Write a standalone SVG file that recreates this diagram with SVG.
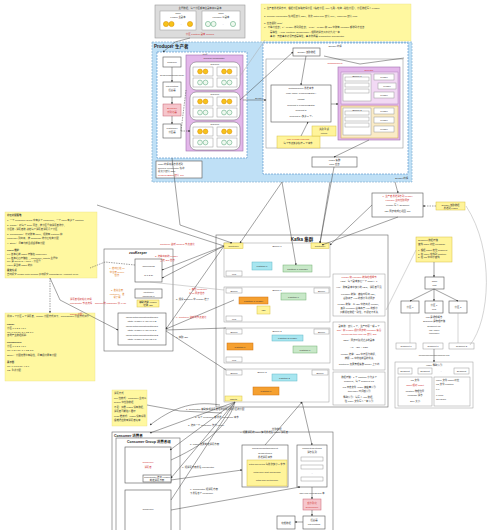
<svg xmlns="http://www.w3.org/2000/svg" width="500" height="530" viewBox="0 0 500 530">
<defs>
<style>
text{font-family:"Liberation Sans","Noto Sans CJK SC",sans-serif;font-size:3px;fill:#333}
.h{font-size:4.5px;font-weight:bold;fill:#222}
.s{font-size:2.4px}
.r{fill:#d03030}
.o{fill:#e07a20}
.bx{fill:#fff;stroke:#555;stroke-width:0.6}
.gb{fill:#fff;stroke:#999;stroke-width:0.5}
.yl{fill:#fff8a0;stroke:#e8e080;stroke-width:0.4}
.dash{fill:#fff;stroke:#4a8cc8;stroke-width:0.6;stroke-dasharray:2 1}
.pu{fill:#e3b7ea;stroke:#a070b0;stroke-width:0.6}
.rb{fill:#fff;stroke:#666;stroke-width:0.5}
.oc{fill:#f6c21a;stroke:#d98a00;stroke-width:0.5}
.gc{fill:#eef8ee;stroke:#4aa070;stroke-width:0.5}
.cy{fill:#a8e6f0;stroke:#60b8c8;stroke-width:0.5}
.gr{fill:#c8e8c8;stroke:#70b070;stroke-width:0.5}
.or{fill:#f5a030;stroke:#d07010;stroke-width:0.5}
.ye{fill:#fff49a;stroke:#d8c040;stroke-width:0.5}
.pk{fill:#f6c6cc;stroke:#c86070;stroke-width:0.5}
.ln{fill:none;stroke:#444;stroke-width:0.5}
.lg{fill:none;stroke:#aaa;stroke-width:0.5}
.ld{fill:none;stroke:#444;stroke-width:0.5;stroke-dasharray:1.5 1}
</style>
<marker id="a" viewBox="0 0 6 6" refX="5" refY="3" markerWidth="4" markerHeight="4" orient="auto"><path d="M0,0L6,3L0,6z" fill="#333"/></marker>
<g id="pair"><circle cx="0" cy="0" r="2.4" class="oc"/><circle cx="5.5" cy="0" r="2.4" class="oc"/></g>
<g id="gpair"><circle cx="0" cy="0" r="2.4" class="gc"/><circle cx="5.5" cy="0" r="2.4" class="gc"/></g>
</defs>

<!-- top legend -->
<g id="legend">
<rect x="155" y="5" width="90" height="33" fill="#dcdcdc" stroke="#999" stroke-width="0.6"/>
<text x="200" y="9" text-anchor="middle" class="s">主题数据，每个分区都有主副本和从副本</text>
<rect x="160" y="11" width="36" height="19" class="gb"/>
<text x="178" y="14" text-anchor="middle" class="s">Topic</text>
<text x="178" y="17.5" text-anchor="middle" class="s">Leader 主副本</text>
<circle cx="166" cy="24" r="2.6" class="oc"/><circle cx="171.5" cy="24" r="2.6" class="oc"/><text x="180" y="25" class="s">...</text><circle cx="190" cy="24" r="2.6" class="oc"/>
<rect x="202" y="11" width="38" height="19" class="gb"/>
<text x="221" y="14" text-anchor="middle" class="s">Topic</text>
<text x="221" y="17.5" text-anchor="middle" class="s">Follower 从副本</text>
<circle cx="208" cy="24" r="2.6" class="gc"/><circle cx="213.5" cy="24" r="2.6" class="gc"/><text x="222" y="25" class="s">...</text><circle cx="233" cy="24" r="2.6" class="gc"/>
<text x="200" y="34.5" text-anchor="middle" class="s r">分区 Partition 副本 Replica</text>
</g>

<g id="note-top">
<rect x="261" y="4" width="150" height="37" class="yl"/>
<text x="264" y="9" class="s">1. 生产者发送消息时，根据分区策略选择分区（指定分区 / key 哈希 / 轮询 / 粘性分区），分区数据写入 Leader</text>
<text x="264" y="17" class="s">2. RecordAccumulator 缓冲区默认 32M，批次 batch.size 默认 16K，linger.ms 默认 0ms</text>
<text x="264" y="24" class="s">3. 应答级别 acks：</text>
<text x="264" y="27.5" class="s">   0：不等待应答；1：Leader 收到即应答；-1(all)：Leader 和 ISR 中所有 Follower 都收到才应答</text>
<text x="270" y="33" class="s">   幂等性：&lt;PID, Partition, SeqNumber&gt; 相同的消息只会持久化一条</text>
<text x="270" y="36.5" class="s">   事务：开启事务必须开启幂等性，事务协调器 Transaction Coordinator</text>
</g>

<!-- Producer -->
<g id="producer">
<rect x="152" y="42" width="260" height="140" fill="#bfe0f6" stroke="#7aa8cc" stroke-width="0.6" stroke-dasharray="2 1"/>
<text x="154" y="47.5" class="h">Producer 生产者</text>
<rect x="157" y="52" width="90" height="106" class="dash"/>
<text x="202" y="56" text-anchor="middle" class="s">main 线程</text>
<rect x="163" y="57" width="18" height="10" class="bx"/><text x="172" y="63" text-anchor="middle" class="s">Producer</text>
<text x="172" y="76" text-anchor="middle" class="s">send(ProducerRecord)</text>
<rect x="163" y="82" width="18" height="15" class="bx"/><text x="172" y="87" text-anchor="middle" class="s">Interceptors</text><text x="172" y="91" text-anchor="middle" class="s">拦截器</text>
<rect x="163" y="104" width="18" height="12" class="pk"/><text x="172" y="109" text-anchor="middle" class="s r">Serializer</text><text x="172" y="113" text-anchor="middle" class="s r">序列化器</text>
<rect x="163" y="124" width="18" height="14" class="bx"/><text x="172" y="129" text-anchor="middle" class="s">Partitioner</text><text x="172" y="133" text-anchor="middle" class="s">分区器</text>
<rect x="186" y="55" width="57" height="96" class="pu"/>
<text x="214" y="59" text-anchor="middle" class="s">RecordAccumulator</text>
<rect x="190" y="62" width="50" height="28" rx="6" class="rb"/><text x="215" y="65" text-anchor="middle" class="s">DQueue</text>
<rect x="193" y="67" width="20" height="9" class="gb"/><rect x="217" y="67" width="20" height="9" class="gb"/>
<rect x="193" y="78" width="20" height="9" class="gb"/><rect x="217" y="78" width="20" height="9" class="gb"/>
<use href="#pair" x="200" y="71.5"/><use href="#pair" x="224" y="71.5"/><use href="#gpair" x="200" y="82.5"/><use href="#gpair" x="224" y="82.5"/>
<rect x="190" y="92" width="50" height="28" rx="6" class="rb"/><text x="215" y="95" text-anchor="middle" class="s">DQueue</text>
<rect x="193" y="97" width="20" height="9" class="gb"/><rect x="217" y="97" width="20" height="9" class="gb"/>
<rect x="193" y="108" width="20" height="9" class="gb"/><rect x="217" y="108" width="20" height="9" class="gb"/>
<use href="#pair" x="200" y="101.5"/><use href="#pair" x="224" y="101.5"/><use href="#gpair" x="200" y="112.5"/><use href="#gpair" x="224" y="112.5"/>
<rect x="190" y="122" width="50" height="28" rx="6" class="rb"/><text x="215" y="125" text-anchor="middle" class="s">DQueue</text>
<rect x="193" y="127" width="20" height="9" class="gb"/><rect x="217" y="127" width="20" height="9" class="gb"/>
<rect x="193" y="138" width="20" height="9" class="gb"/><rect x="217" y="138" width="20" height="9" class="gb"/>
<use href="#pair" x="200" y="131.5"/><use href="#pair" x="224" y="131.5"/><use href="#gpair" x="200" y="142.5"/><use href="#gpair" x="224" y="142.5"/>
<rect x="156" y="161" width="46" height="17" class="bx" stroke="#bbb"/>
<text x="158" y="165" class="s">main 线程将消息发送到</text><text x="158" y="168.5" class="s">RecordAccumulator 缓冲</text><text x="158" y="172" class="s">总大小默认 32M</text><text x="158" y="176" class="s r">ProducerBatch 默认 16K</text>
<text x="255" y="99" class="s">Sender</text>
<rect x="263" y="43" width="145" height="131" class="dash"/>
<text x="335" y="47" text-anchor="middle" class="s">Sender 线程</text>
<rect x="293" y="48" width="27" height="8" class="bx"/><text x="306.5" y="53" text-anchor="middle" class="s">Sender 读取数据</text>
<rect x="266" y="59" width="137" height="89" fill="#fff" stroke="#999" stroke-width="0.6"/>
<text x="335" y="64" text-anchor="middle" class="s r">NetworkClient</text>
<rect x="271" y="85" width="60" height="37" class="bx"/>
<text x="301" y="89" text-anchor="middle" class="s">NetworkClient 发送请求</text>
<text x="301" y="94" text-anchor="middle" class="s">Map&lt;Topic, ProducerBatch&gt;</text>
<text x="301" y="100" text-anchor="middle" class="s">Inflight</text>
<text x="301" y="106" text-anchor="middle" class="s">Request 1 ProducerBatch</text>
<text x="301" y="111" text-anchor="middle" class="s">Request 2</text>
<text x="301" y="117" text-anchor="middle" class="s">Request 5 (最多 5 个)</text>
<rect x="338" y="67" width="62" height="73" class="pu"/>
<text x="369" y="70.5" text-anchor="middle" class="s r">Selector</text>
<rect x="341" y="72" width="57" height="32" fill="#f2d9f4" stroke="#a070b0" stroke-width="0.4"/>
<rect x="343" y="74" width="28" height="27" class="gb"/>
<rect x="345" y="77" width="24" height="4" class="gb"/><rect x="345" y="83" width="24" height="4" class="gb"/><rect x="345" y="89" width="24" height="4" class="gb"/>
<text x="357" y="76.5" text-anchor="middle" class="s">Broker 1</text>
<rect x="374" y="74" width="20" height="6" class="gb"/><rect x="378" y="83" width="18" height="6" class="gb"/><rect x="374" y="92" width="20" height="6" class="gb"/>
<text x="384" y="78" text-anchor="middle" class="s">Leader</text><text x="387" y="87" text-anchor="middle" class="s">Leader</text><text x="384" y="96" text-anchor="middle" class="s">Leader</text>
<rect x="341" y="106" width="57" height="32" fill="#faebc6" stroke="#d0a040" stroke-width="0.5"/>
<rect x="343" y="108" width="28" height="27" class="gb"/>
<rect x="345" y="111" width="24" height="4" class="gb"/><rect x="345" y="117" width="24" height="4" class="gb"/><rect x="345" y="123" width="24" height="4" class="gb"/>
<text x="357" y="110.5" text-anchor="middle" class="s">Broker 2</text>
<rect x="374" y="108" width="20" height="6" class="gb"/><rect x="374" y="117" width="20" height="6" class="gb"/><rect x="374" y="126" width="20" height="6" class="gb"/>
<text x="384" y="112" text-anchor="middle" class="s">Leader</text><text x="384" y="121" text-anchor="middle" class="s">Leader</text><text x="384" y="130" text-anchor="middle" class="s">Leader</text>
<rect x="277" y="136" width="43" height="12" class="ye"/>
<text x="298" y="140" text-anchor="middle" class="s r">Max.in.flight.requests</text><text x="298" y="144" text-anchor="middle" class="s">每个节点最多缓存 5 个请求</text>
<rect x="312" y="126" width="24" height="10" class="ye"/>
<text x="324" y="130" text-anchor="middle" class="s">失败重试</text><text x="324" y="134" text-anchor="middle" class="s">retries</text>
<rect x="312" y="157" width="45" height="10" class="bx"/>
<text x="334.5" y="161" text-anchor="middle" class="s">Kafka 集群</text><text x="334.5" y="165" text-anchor="middle" class="s">acks 应答</text>
<text x="395" y="179" class="s">Sender 线程</text>
</g>

<!-- Kafka cluster -->
<g id="kafka">
<rect x="216" y="235" width="172" height="172" fill="#fff" stroke="#666" stroke-width="0.6"/>
<text x="302" y="240.5" text-anchor="middle" class="h">Kafka 集群</text>
<rect x="224" y="243" width="106" height="34" class="gb"/>
<rect x="224" y="243" width="19" height="5.5" class="ye"/><text x="233.5" y="247" text-anchor="middle" class="s">Controller</text>
<rect x="311" y="243" width="18" height="5.5" class="ye"/><text x="320" y="247" text-anchor="middle" class="s">Controller</text>
<text x="277" y="247" text-anchor="middle" class="s">Broker 0</text>
<rect x="252" y="262" width="20" height="8" class="cy"/><text x="262" y="267" text-anchor="middle" class="s">Partition 0</text>
<rect x="283" y="265" width="29" height="7" class="gr"/><text x="297.5" y="269.5" text-anchor="middle" class="s">Partition 1 Follower</text>
<rect x="226" y="271" width="16" height="5" class="gb"/><text x="234" y="274.5" text-anchor="middle" class="s">Log</text>

<rect x="224" y="287" width="106" height="35" class="gb"/>
<rect x="226" y="288" width="16" height="5" class="gb"/><text x="234" y="291.5" text-anchor="middle" class="s">Broker</text>
<rect x="314" y="288" width="15" height="5" class="gb"/><text x="321.5" y="291.5" text-anchor="middle" class="s">Broker</text>
<text x="277" y="291" text-anchor="middle" class="s">Broker 1</text>
<rect x="239" y="297" width="29" height="7" class="or"/><text x="253.5" y="301.5" text-anchor="middle" class="s">Partition 1 Leader</text>
<rect x="257" y="306" width="13" height="8" class="ye"/><text x="263.5" y="310.5" text-anchor="middle" class="s">ISR</text>
<rect x="281" y="293" width="25" height="7" class="gr"/><text x="293.5" y="297.5" text-anchor="middle" class="s">Partition 0</text>
<rect x="226" y="316" width="16" height="5" class="gb"/><text x="234" y="319.5" text-anchor="middle" class="s">Log</text>

<rect x="224" y="328" width="106" height="35" class="gb"/>
<rect x="226" y="329" width="16" height="5" class="gb"/><text x="234" y="332.5" text-anchor="middle" class="s">Broker</text>
<rect x="314" y="329" width="15" height="5" class="gb"/><text x="321.5" y="332.5" text-anchor="middle" class="s">Broker</text>
<text x="277" y="332" text-anchor="middle" class="s">Broker 2</text>
<rect x="272" y="335" width="31" height="6" class="cy"/><text x="287.5" y="339" text-anchor="middle" class="s">Partition 2 Leader</text>
<rect x="227" y="343" width="26" height="7" class="or"/><text x="240" y="347.5" text-anchor="middle" class="s">Partition 1</text>
<rect x="293" y="346" width="24" height="7" class="gr"/><text x="305" y="350.5" text-anchor="middle" class="s">Partition 0</text>
<rect x="226" y="357" width="16" height="5" class="gb"/><text x="234" y="360.5" text-anchor="middle" class="s">Log</text>

<rect x="224" y="369" width="105" height="33" class="gb"/>
<rect x="226" y="370" width="16" height="5" class="gb"/><text x="234" y="373.5" text-anchor="middle" class="s">Broker</text>
<rect x="312" y="370" width="16" height="5" class="gb"/><text x="320" y="373.5" text-anchor="middle" class="s">Broker</text>
<text x="262" y="373" text-anchor="middle" class="s">Broker 3</text>
<rect x="272" y="374" width="25" height="7" class="cy"/><text x="284.5" y="378.5" text-anchor="middle" class="s">Partition 2</text>
<rect x="253" y="387" width="26" height="8" class="or"/><text x="266" y="392" text-anchor="middle" class="s">Partition 1</text>
<rect x="225" y="396" width="17" height="5" class="ye"/><text x="233.5" y="399.5" text-anchor="middle" class="s">offsets</text>

<rect x="333" y="274" width="52" height="42" class="gb"/>
<text x="359" y="278" text-anchor="middle" class="s r">Leader 和 Follower 故障处理细节</text>
<text x="359" y="282" text-anchor="middle" class="s">LEO：每个副本最后一个 offset + 1</text>
<text x="359" y="288" text-anchor="middle" class="s">HW：所有副本中最小的 LEO，消费者可见</text>
<text x="359" y="295" text-anchor="middle" class="s">Follower 故障：被临时踢出 ISR，</text>
<text x="359" y="298.5" text-anchor="middle" class="s">截取高于 HW 的部分重新同步</text>
<text x="359" y="305" text-anchor="middle" class="s">Leader 故障：从 ISR 中选出新 Leader，</text>
<text x="359" y="308.5" text-anchor="middle" class="s">其余 Follower 截掉高于 HW 的部分</text>
<text x="359" y="313" text-anchor="middle" class="s">只能保证数据一致性，不保证不丢失</text>
<rect x="333" y="322" width="52" height="48" class="gb"/>
<text x="359" y="327" text-anchor="middle" class="s">副本数：默认 1 个，生产环境一般 2 个</text>
<text x="359" y="331" text-anchor="middle" class="s r">ISR：和 Leader 保持同步的 Follower 集合</text>
<text x="359" y="334.5" text-anchor="middle" class="s r">replica.lag.time.max.ms 默认 30s</text>
<text x="359" y="341" text-anchor="middle" class="s">OSR：同步时延迟过多的副本</text>
<text x="359" y="348" text-anchor="middle" class="s">AR = ISR + OSR</text>
<text x="359" y="355" text-anchor="middle" class="s">Leader 选举：ISR 中存活为前提，</text>
<text x="359" y="358.5" text-anchor="middle" class="s">按照 AR 中排在前面的优先</text>
<text x="359" y="365" text-anchor="middle" class="s">Controller 负责管理集群 broker 上下线</text>
<rect x="333" y="372" width="52" height="33" class="gb"/>
<text x="359" y="378" text-anchor="middle" class="s">数据存储：1 个 partition 分为多个</text>
<text x="359" y="381.5" text-anchor="middle" class="s">segment，每个 segment 1G</text>
<text x="359" y="388" text-anchor="middle" class="s">.log 日志文件 .index 偏移量索引</text>
<text x="359" y="391.5" text-anchor="middle" class="s">.timeindex 时间戳索引</text>
<text x="359" y="398" text-anchor="middle" class="s">稀疏索引：每写入 4kb 数据，</text>
<text x="359" y="401.5" text-anchor="middle" class="s">往 index 文件写入一条索引</text>
</g>

<!-- ZooKeeper -->
<g id="zookeeper">
<rect x="104" y="249" width="69" height="102" fill="#fff" stroke="#666" stroke-width="0.6"/>
<text x="138" y="254" text-anchor="middle" class="h" style="font-size:3.5px">zooKeeper</text>
<rect x="135" y="259" width="27" height="23" class="bx"/>
<text x="148.5" y="267" text-anchor="middle" class="s">/brokers/ids</text>
<text x="148.5" y="276" text-anchor="middle" class="s">[0,1,2,3]</text>
<rect x="135" y="289" width="27" height="9" class="bx"/>
<text x="148.5" y="293" text-anchor="middle" class="s">/controller</text><text x="148.5" y="296.5" text-anchor="middle" class="s">"brokerid":0</text>
<rect x="137" y="300" width="22" height="7" class="ye"/>
<text x="148" y="303" text-anchor="middle" class="s">辅助选举 Leader</text><text x="148" y="306" text-anchor="middle" class="s">记录 ISR</text>
<rect x="118" y="313" width="48" height="32" class="bx"/>
<text x="142" y="318" text-anchor="middle" class="s">/brokers/topics/first/partitions/0</text>
<text x="142" y="321.5" text-anchor="middle" class="s">/state "leader":1 "isr":[1,0,2]</text>
<text x="142" y="327" text-anchor="middle" class="s">/brokers/topics/first/partitions/1</text>
<text x="142" y="330.5" text-anchor="middle" class="s">/state "leader":0 "isr":[0,2,1]</text>
<text x="142" y="336" text-anchor="middle" class="s">/brokers/topics/first/partitions/2</text>
<text x="142" y="339.5" text-anchor="middle" class="s">/state "leader":2 "isr":[2,1,0]</text>
<text x="117" y="269" text-anchor="middle" class="s o">1. 启动后在 zk</text><text x="117" y="272.5" text-anchor="middle" class="s o">中注册 broker</text><text x="117" y="276" text-anchor="middle" class="s o">信息</text>
<text x="117" y="291" text-anchor="middle" class="s o">2. 谁先注册</text><text x="117" y="294.5" text-anchor="middle" class="s o">controller，谁</text><text x="117" y="298" text-anchor="middle" class="s o">说了算</text>
</g>

<!-- left notes -->
<g id="note-left1">
<rect x="5" y="212" width="92" height="66" class="yl"/>
<text x="7" y="216" class="s" font-weight="bold">分区分配策略</text>
<text x="7" y="221" class="s">1. 一个 consumer group 中有多个 consumer，一个 topic 有多个 partition</text>
<text x="7" y="226" class="s">2. Range：对每个 topic 而言，按分区号和消费者排序，</text>
<text x="7" y="229.5" class="s">   分区数 / 消费者数 决定每个消费者消费几个分区</text>
<text x="7" y="235" class="s">3. RoundRobin：针对所有 topic，把所有 partition 和</text>
<text x="7" y="238.5" class="s">   consumer 列出来，按 hashcode 排序后轮询分配</text>
<text x="7" y="244" class="s">4. Sticky：尽量均衡且保留原有分配</text>
<text x="7" y="251" class="s" font-weight="bold">offset 维护</text>
<text x="7" y="255" class="s">0.9 版本之前 offset 存储在 zookeeper</text>
<text x="7" y="258.5" class="s">0.9 版本之后存储在 __consumer_offsets 主题中</text>
<text x="7" y="262" class="s">key 是 group.id + topic + 分区号</text>
<text x="7" y="265.5" class="s">value 是当前 offset 的值</text>
<text x="7" y="271" class="s" font-weight="bold">提交方式</text>
<text x="7" y="274.5" class="s">自动提交 enable.auto.commit  手动提交 commitSync / commitAsync</text>
</g>
<g id="note-left2">
<rect x="5" y="313" width="90" height="68" class="yl"/>
<text x="7" y="317" class="s">例如 7 个分区 3 个消费者，Range 分配方式如下，RoundRobin 分配方式如下</text>
<text x="7" y="325" class="s" font-weight="bold">Range</text>
<text x="7" y="329" class="s">分区  0  1  2  3  4  5  6</text>
<text x="7" y="332.5" class="s">C0: 0 1 2   C1: 3 4   C2: 5 6</text>
<text x="7" y="336" class="s">容易产生数据倾斜</text>
<text x="7" y="343" class="s" font-weight="bold">RoundRobin</text>
<text x="7" y="347" class="s">分区  0  1  2  3  4  5  6</text>
<text x="7" y="350.5" class="s">C0: 0 3 6   C1: 1 4   C2: 2 5</text>
<text x="7" y="356" class="s">Sticky：分配结果带有粘性，尽量保持原有分配</text>
<text x="7" y="363" class="s" font-weight="bold">再平衡</text>
<text x="7" y="367" class="s">C0: 0 1 2 3   C1: 4 5 6</text>
<text x="7" y="370.5" class="s">C2: 重新分配</text>
</g>

<!-- right side -->
<g id="right-notes">
<rect x="372" y="193" width="51" height="24" class="bx"/>
<text x="397.5" y="197" text-anchor="middle" class="s r">1. 生产者发送消息到 Leader</text>
<text x="397.5" y="200.5" text-anchor="middle" class="s r">Follower 主动拉取同步</text>
<text x="397.5" y="206" text-anchor="middle" class="s">Leader 写入 Segment</text>
<text x="397.5" y="212" text-anchor="middle" class="s">ISR 同步完成后返回 ack</text>
<rect x="436" y="202" width="29" height="8" class="ye"/>
<text x="450.5" y="205.5" text-anchor="middle" class="s">Sender 读取数据</text><text x="450.5" y="208.5" text-anchor="middle" class="s">发送到 Kafka</text>
<rect x="416" y="237" width="36" height="25" class="ye"/>
<text x="418" y="241" class="s">Segment 数据存储</text>
<text x="418" y="244.5" class="s">查找 offset 对应 Message</text>
<text x="418" y="251" class="s">1. 根据 offset 定位 segment</text>
<text x="418" y="254.5" class="s">2. 在 index 中找到 position</text>
<text x="418" y="258" class="s">3. 在 log 中顺序查找</text>
<rect x="425" y="277" width="19" height="12" class="bx"/>
<text x="434.5" y="282" text-anchor="middle" class="s">Topic</text><text x="434.5" y="286" text-anchor="middle" class="s">first</text>
<rect x="401" y="301" width="18" height="12" class="bx"/><text x="410" y="308" text-anchor="middle" class="s">分区 0</text>
<rect x="425" y="301" width="18" height="12" class="bx"/><text x="434" y="305.5" text-anchor="middle" class="s">分区 1</text><text x="434" y="309.5" text-anchor="middle" class="s">Log</text>
<rect x="449" y="301" width="18" height="12" class="bx"/><text x="458" y="308" text-anchor="middle" class="s">分区 2</text>
<text x="434" y="318" text-anchor="middle" class="s">Log 是逻辑概念</text>
<text x="434" y="321.5" text-anchor="middle" class="s">Segment 是物理存储</text>
<text x="434" y="327" text-anchor="middle" class="s">Segment 1G</text>
<text x="434" y="330.5" text-anchor="middle" class="s">.log .index</text>
<text x="434" y="334" text-anchor="middle" class="s">.timeindex</text>
<rect x="396" y="343" width="20" height="6" class="gb"/><text x="406" y="347" text-anchor="middle" class="s">segment 0</text>
<rect x="423" y="343" width="20" height="6" class="gb"/><text x="433" y="347" text-anchor="middle" class="s">segment 1</text>
<rect x="449" y="343" width="25" height="6" class="gb"/><text x="461.5" y="347" text-anchor="middle" class="s">segment 2</text>
<text x="434" y="356" text-anchor="middle" class="s">00000000000000000000.log</text>
<rect x="395" y="362" width="78" height="46" class="gb"/>
<text x="434" y="366" text-anchor="middle" class="s">.index 稀疏索引</text>
<rect x="398" y="368" width="14" height="6" class="gb"/><text x="405" y="372" text-anchor="middle" class="s">Segment</text>
<rect x="418" y="368" width="14" height="6" class="gb"/><text x="425" y="372" text-anchor="middle" class="s">Segment</text>
<text x="440" y="372" class="s">...</text>
<rect x="454" y="368" width="15" height="6" class="gb"/><text x="461.5" y="372" text-anchor="middle" class="s">Segment</text>
<rect x="398" y="377" width="34" height="29" class="gb"/>
<text x="415" y="381" text-anchor="middle" class="s">log 文件</text>
<text x="415" y="386" text-anchor="middle" class="s r">offset 相对 offset</text>
<text x="415" y="392" text-anchor="middle" class="s">position 物理位置</text>
<text x="415" y="395.5" text-anchor="middle" class="s">Message 消息</text>
<text x="415" y="402" text-anchor="middle" class="s">Size 大小</text>
<rect x="434" y="377" width="36" height="29" class="gb"/>
<text x="436" y="381" class="s">index 文件 offset 对应</text>
<text x="436" y="384.5" class="s">log 文件 position</text>
<text x="436" y="390" class="s">0 0</text>
<text x="436" y="396" class="s">6 9807</text>
<text x="436" y="399.5" class="s">12 13457</text>
</g>

<!-- Consumer -->
<g id="consumer">
<rect x="112" y="432" width="221" height="100" fill="#fff" stroke="#666" stroke-width="0.6"/>
<text x="114" y="437" class="h" style="font-size:3.5px">Consumer 消费者</text>
<rect x="116" y="438" width="64" height="94" fill="#fff" stroke="#666" stroke-width="0.6"/>
<text x="127" y="443" class="h" style="font-size:3.5px">Consumer Group 消费者组</text>
<rect x="125" y="447" width="46" height="36" class="bx"/>
<text x="148" y="463" text-anchor="middle" class="s r">Consumer</text>
<text x="148" y="468" text-anchor="middle" class="s r">消费者</text>
<rect x="143" y="475" width="28" height="7" class="bx"/>
<text x="157" y="478" text-anchor="middle" class="s">Coordinator 选出 Leader</text><text x="157" y="481" text-anchor="middle" class="s">制定消费方案</text>
<rect x="125" y="490" width="46" height="42" class="bx"/>
<text x="148" y="510" text-anchor="middle" class="s">Consumer</text>
<rect x="242" y="445" width="46" height="42" class="bx"/>
<text x="265" y="449" text-anchor="middle" class="s">ConsumerNetworkClient</text>
<text x="265" y="454" text-anchor="middle" class="s">sendFetches</text>
<text x="265" y="457.5" text-anchor="middle" class="s">发送消费请求</text>
<rect x="247" y="460" width="40" height="26" class="ye"/>
<text x="267" y="465" text-anchor="middle" class="s">fetch.min.bytes 每批次最小 1 字节</text>
<text x="267" y="473" text-anchor="middle" class="s">fetch.max.wait.ms 500ms</text>
<text x="267" y="481" text-anchor="middle" class="s">fetch.max.bytes 50M</text>
<rect x="297" y="445" width="30" height="42" class="bx"/>
<text x="312" y="449" text-anchor="middle" class="s">completedFetches</text>
<text x="312" y="452.5" text-anchor="middle" class="s">消息队列</text>
<rect x="301" y="457" width="22" height="4" class="gb"/><rect x="301" y="465" width="22" height="4" class="gb"/>
<text x="312" y="474" text-anchor="middle" class="s">...</text>
<rect x="301" y="477" width="22" height="4" class="gb"/>
<text x="312" y="494" text-anchor="middle" class="s">max.poll.records 500 条</text>
<rect x="303" y="499" width="18" height="11" class="pk"/>
<text x="312" y="504" text-anchor="middle" class="s r">反序列化</text><text x="312" y="507.5" text-anchor="middle" class="s r">Deserializer</text>
<rect x="277" y="516" width="18" height="13" class="bx"/><text x="286" y="523.5" text-anchor="middle" class="s">处理数据</text>
<rect x="303" y="516" width="22" height="13" class="bx"/><text x="314" y="520.5" text-anchor="middle" class="s">拦截器</text><text x="314" y="524.5" text-anchor="middle" class="s">Interceptors</text>
<rect x="112" y="390" width="35" height="36" class="yl"/>
<text x="114" y="394" class="s">消费方式</text>
<text x="114" y="399" class="s">pull 拉模式：consumer 主动从</text>
<text x="114" y="402.5" class="s">broker 中拉取数据</text>
<text x="114" y="408" class="s">不足：如果 Kafka 没有数据，</text>
<text x="114" y="411.5" class="s">消费者可能陷入循环</text>
<text x="114" y="417" class="s">push 推模式：Kafka 没有采用</text>
<text x="114" y="420.5" class="s">很难适应所有消费者速率</text>
</g>

<!-- connectors -->
<g id="connectors">
<path class="ln" d="M172 67V82" marker-end="url(#a)"/>
<path class="ln" d="M172 97V104" marker-end="url(#a)"/>
<path class="ln" d="M172 116V124" marker-end="url(#a)"/>
<path class="ld" d="M181 131L190 131" marker-end="url(#a)"/>
<path class="ld" d="M181 131L186 90" />
<path class="ln" d="M243 100L266 100" marker-end="url(#a)"/>
<path class="ln" d="M306 56L301 85" marker-end="url(#a)"/>
<path class="ln" d="M331 104L338 104" marker-end="url(#a)"/>
<path class="ln" d="M301 136L308 122" marker-end="url(#a)"/>
<path class="ln" d="M369 140L334 157" marker-end="url(#a)"/>
<path class="ln" d="M190 38L175 42L163 52" marker-end="url(#a)"/>
<path class="lg" d="M265 40L240 76"/>
<path class="ln" d="M240 100L293 52" marker-end="url(#a)"/>
<path class="ln" d="M324 56L360 64L404 58" />
<path class="ln" d="M172 158L180 225L232 243" marker-end="url(#a)"/>
<path class="ln" d="M282 182L240 243" marker-end="url(#a)"/>
<path class="ln" d="M282 182L296 265" marker-end="url(#a)"/>
<path class="ln" d="M334 167L320 243" marker-end="url(#a)"/>
<path class="ln" d="M330 182L320 243" marker-end="url(#a)"/>
<path class="ln" d="M395 182L398 193" marker-end="url(#a)"/>
<path class="ln" d="M372 205L330 245" marker-end="url(#a)"/>
<path class="ln" d="M398 217L322 245" marker-end="url(#a)"/>
<path class="ld" d="M436 206L423 206" marker-end="url(#a)"/>
<path class="lg" d="M466 206C495 250 490 320 470 345"/>
<path class="lg" d="M416 250L386 310"/>
<path class="ln" d="M434 262V277" marker-end="url(#a)"/>
<path class="ln" d="M434 289L410 301" marker-end="url(#a)"/>
<path class="ln" d="M434 289V301" marker-end="url(#a)"/>
<path class="ln" d="M434 289L458 301" marker-end="url(#a)"/>
<path class="lg" d="M410 313V343"/><path class="lg" d="M458 313V343"/>
<path class="ln" d="M434 349V362" marker-end="url(#a)"/>
<path class="ln" d="M224 246L97 205" />
<path class="ln" d="M224 246L162 270" marker-end="url(#a)"/>
<path class="ln" d="M224 246L162 278" marker-end="url(#a)"/>
<path class="lg" d="M224 290L150 282"/>
<path class="ln" d="M224 246L166 329" marker-end="url(#a)"/>
<path class="ln" d="M234 300L166 329" />
<path class="ln" d="M226 328L166 330" />
<path class="ln" d="M226 370L166 331" />
<path class="ld" d="M135 265L105 262L90 268" />
<text x="160" y="245" class="s r">Controller 监听 brokers 节点变化</text>
<text x="155" y="257" class="s r">3. 选举出来的 Leader</text>
<text x="160" y="260.5" class="s r">上传 ISR 信息</text>
<text x="189" y="290" class="s r">4. 其他 controller</text><text x="189" y="293.5" class="s r">从 zk 同步信息</text>
<text x="176" y="300" class="s">5. 假设 Broker1 中 Leader 挂了</text>
<text x="176" y="318" class="s r">6. Controller 监听到节点变化</text>
<text x="176" y="338" class="s">7. 获取 ISR</text>
<path class="ln" d="M50 278L60 300L118 330" marker-end="url(#a)"/>
<path class="ld" d="M50 278V313" marker-end="url(#a)"/>
<text x="70" y="300" class="s r">消费者组初始化流程</text>
<text x="70" y="303.5" class="s r">coordinator 节点选择 = groupid 的 hashcode 值 % 50</text>
<text x="70" y="315" class="s r">Range 分配</text>
<path class="ln" d="M235 402L170 450" marker-end="url(#a)"/>
<path class="ln" d="M235 402L150 433" marker-end="url(#a)"/>
<path class="ln" d="M235 402C230 420 215 440 171 460"/>
<path class="ln" d="M235 402L171 478" marker-end="url(#a)"/>
<path class="ln" d="M235 402L171 500"/>
<path class="ln" d="M265 445L302 402" marker-end="url(#a)"/>
<path class="ln" d="M302 402L312 445" marker-end="url(#a)"/>
<path class="ln" d="M171 480L242 470" marker-end="url(#a)"/>
<path class="ln" d="M171 510L300 487" marker-end="url(#a)"/>
<path class="ln" d="M312 487V499" marker-end="url(#a)"/>
<path class="ln" d="M312 510V516" marker-end="url(#a)"/>
<path class="ln" d="M303 522H295" marker-end="url(#a)"/>
<path class="ln" d="M147 405L180 411L222 413" />
<path class="ln" d="M220 405C190 400 170 410 150 425" marker-end="url(#a)"/>
<text x="186" y="410" class="s">1. coordinator 辅助实现消费者组的初始化和分区的分配</text>
<text x="195" y="418" class="s">2. 每个 consumer 都发送 JoinGroup 请求</text>
<text x="188" y="426" class="s">3. 选出一个 consumer 作为 leader</text>
<text x="240" y="433" class="s">4. 把要消费的 topic 情况发送给 leader 消费者</text>
<text x="190" y="445" class="s">5. leader 负责制定消费方案</text>
<text x="182" y="468" class="s">6. 把消费方案发给 coordinator</text>
<text x="190" y="490" class="s">7. Coordinator 把消费方案</text><text x="190" y="493.5" class="s">下发给各个 consumer</text>
<text x="272" y="430" class="s">拉取数据</text>
</g>
</svg>
